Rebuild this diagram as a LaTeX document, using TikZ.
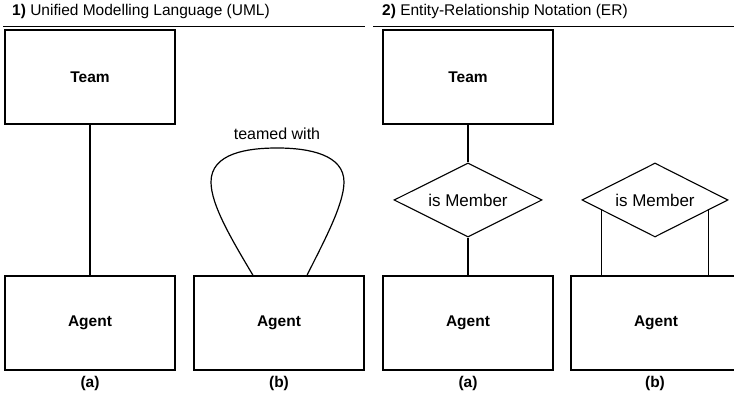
\documentclass[tikz,border=0pt]{standalone}
\usepackage{fontspec}
\setmainfont{Liberation Sans}
\usetikzlibrary{shapes.geometric,calc}
\begin{document}
\begin{tikzpicture}[x=1pt,y=1pt,
  every node/.style={font=\fontsize{15.5}{18}\selectfont},
  entity/.style={draw, line width=1.3pt, minimum width=170pt, minimum height=94pt, inner sep=0pt, font=\fontsize{15.5}{18}\selectfont\bfseries},
  relship/.style={draw, diamond, line width=1.1pt, minimum width=148pt, minimum height=74pt, inner sep=0pt, aspect=2, font=\fontsize{17}{20}\selectfont},
  conn/.style={line width=1.3pt},
  rule/.style={line width=1pt},
  caption/.style={font=\fontsize{15.5}{18}\selectfont\bfseries}]
\useasboundingbox (0,0) rectangle (734,395);
\clip (0,0) rectangle (734,395);

% section headings
\node[anchor=west, inner sep=0pt] (h1) at (12,383) {\textbf{1)} Unified Modelling Language (UML)};
\node[anchor=west, inner sep=0pt] (h2) at (382,383) {\textbf{2)} Entity-Relationship Notation (ER)};
\coordinate (h1a) at (3,368);
\coordinate (h1b) at (365,368);
\coordinate (h2a) at (373,368);
\coordinate (h2b) at (734,368);
\draw[rule] (h1a) -- (h1b);
\draw[rule] (h2a) -- (h2b);

% UML (a)
\node[entity] (ut) at (90,318) {Team};
\node[entity] (ua) at (90,72) {Agent};
\draw[conn] (ut) -- (ua);
\node[caption] (ca1) at (90,12) {(a)};

% UML (b): self association
\node[entity] (ub) at (279,72) {Agent};
\coordinate (l0) at ($(ub.north)+(-26,0)$);
\coordinate (l1) at ($(ub.north)+(28,0)$);
\draw[line width=1.2pt] (l0) .. controls (232,155) and (211,190) .. (211,213)
  .. controls (211,242) and (248,247) .. (277,247)
  .. controls (310,247) and (344,240) .. (344,213)
  .. controls (344,190) and (322,150) .. (l1);
\node[font=\fontsize{16}{19}\selectfont] (tw) at (277,261) {teamed with};
\node[caption] (ca2) at (279,12) {(b)};

% ER (a)
\node[entity] (et) at (468,318) {Team};
\node[relship] (er1) at (468,195) {is Member};
\node[entity] (ea) at (468,72) {Agent};
\draw[conn] (et) -- (er1);
\draw[conn] (er1) -- (ea);
\node[caption] (ca3) at (468,12) {(a)};

% ER (b): relationship attached twice to the same entity
\node[relship, minimum width=146pt] (er2) at (655,195) {is Member};
\node[entity] (eb) at (656,72) {Agent};
\coordinate (p1) at ($(er2.west)!0.274!(er2.south)$);
\coordinate (p2) at ($(er2.east)!0.274!(er2.south)$);
\draw[conn] (p1) -- (p1 |- eb.north);
\draw[conn] (p2) -- (p2 |- eb.north);
\node[caption] (ca4) at (655,12) {(b)};
\end{tikzpicture}
\end{document}
